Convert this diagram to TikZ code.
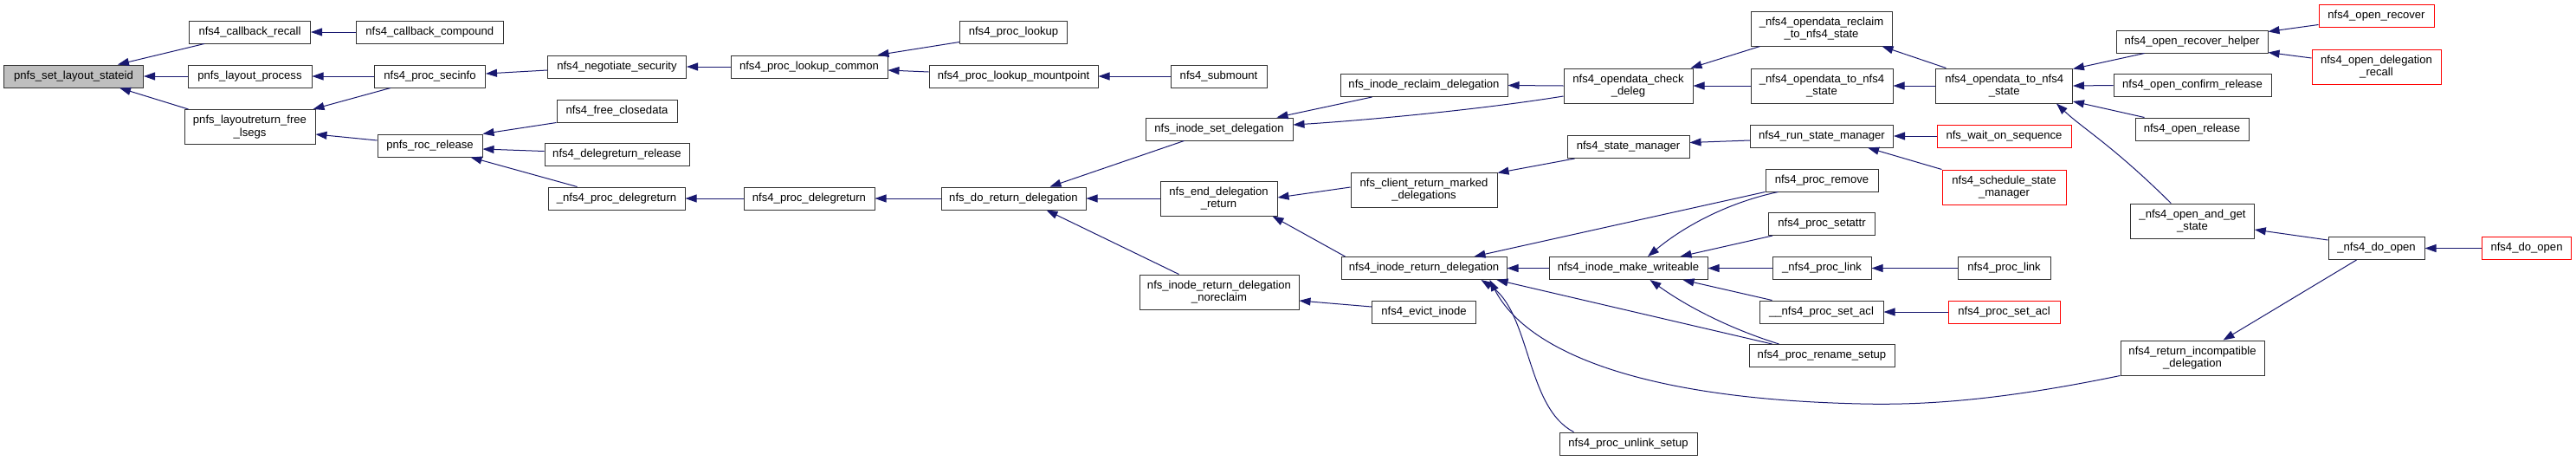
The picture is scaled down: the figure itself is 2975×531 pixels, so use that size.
\documentclass[tikz,border=0pt]{standalone}
\usepackage{fontspec}
\setmainfont{Liberation Sans}
\usetikzlibrary{arrows.meta,calc}
\definecolor{edgeblue}{HTML}{191970}
\definecolor{boxline}{HTML}{333333}
\newcommand\nfnt{\fontsize{13.1}{14.3}\selectfont}
\tikzset{
  box/.style={draw=boxline, line width=1pt, fill=white, inner sep=0pt, align=center, font=\nfnt, anchor=center, minimum height=26pt},
  twol/.style={minimum height=40pt},
  redbox/.style={box, draw=red},
  graybox/.style={box, fill=black!25},
  edge/.style={draw=edgeblue, line width=1pt, -{Triangle[length=13pt,width=9pt]}},
}
\begin{document}
\begin{tikzpicture}[x=1pt,y=-1pt]
\fill[white] (0,0) rectangle (2975,531);
\useasboundingbox (0,0) rectangle (2975,531);
% rank 0
\node[graybox, minimum width=161pt] (pslid) at (85,88) {pnfs\_set\_layout\_stateid};
% rank 1
\node[box, minimum width=140pt] (cbrecall) at (288.5,37) {nfs4\_callback\_recall};
\node[box, minimum width=143pt] (lprocess) at (288.5,88) {pnfs\_layout\_process};
\node[box, twol, minimum width=151pt] (freelsegs) at (288.5,146.5) {pnfs\_layoutreturn\_free\\\_lsegs};
% rank 2
\node[box, minimum width=170pt] (cbcomp) at (496.3,37) {nfs4\_callback\_compound};
\node[box, minimum width=128pt] (secinfo) at (496.5,88) {nfs4\_proc\_secinfo};
\node[box, minimum width=121pt] (rocrel) at (496.5,168) {pnfs\_roc\_release};
% rank 3
\node[box, minimum width=160pt] (negsec) at (712.5,77) {nfs4\_negotiate\_security};
\node[box, minimum width=139pt] (freeclose) at (712.5,128) {nfs4\_free\_closedata};
\node[box, minimum width=167pt] (delegrel) at (712.5,178.5) {nfs4\_delegreturn\_release};
\node[box, minimum width=158pt] (pdelegret) at (712,229) {\_nfs4\_proc\_delegreturn};
% rank 4
\node[box, minimum width=181pt] (lookupcommon) at (934.5,77) {nfs4\_proc\_lookup\_common};
\node[box, minimum width=151pt] (delegret) at (934.5,229) {nfs4\_proc\_delegreturn};
% rank 5
\node[box, minimum width=124pt] (lookup) at (1170.5,37) {nfs4\_proc\_lookup};
\node[box, minimum width=195pt] (mountpoint) at (1170.5,88) {nfs4\_proc\_lookup\_mountpoint};
\node[box, minimum width=167pt] (doreturn) at (1170.5,229) {nfs\_do\_return\_delegation};
% rank 6
\node[box, minimum width=111pt] (submount) at (1407.5,88) {nfs4\_submount};
\node[box, minimum width=170pt] (setdeleg) at (1408,149) {nfs\_inode\_set\_delegation};
\node[box, twol, minimum width=135pt] (enddeleg) at (1407.5,229) {nfs\_end\_delegation\\\_return};
\node[box, twol, minimum width=184pt] (noreclaim) at (1408,337) {nfs\_inode\_return\_delegation\\\_noreclaim};
% rank 7
\node[box, minimum width=193pt] (reclaimdeleg) at (1644.5,98.5) {nfs\_inode\_reclaim\_delegation};
\node[box, twol, minimum width=169pt] (clientret) at (1644.5,219) {nfs\_client\_return\_marked\\\_delegations};
\node[box, minimum width=191pt] (inoderet) at (1644.5,309.5) {nfs4\_inode\_return\_delegation};
\node[box, minimum width=120pt] (evict) at (1644.5,360) {nfs4\_evict\_inode};
% rank 8
\node[box, twol, minimum width=149pt] (checkdeleg) at (1880.5,99) {nfs4\_opendata\_check\\\_deleg};
\node[box, minimum width=141pt] (statemgr) at (1880.5,169.5) {nfs4\_state\_manager};
\node[box, minimum width=183pt] (makewr) at (1880.5,309.5) {nfs4\_inode\_make\_writeable};
\node[box, minimum width=159pt] (unlink) at (1880.5,512) {nfs4\_proc\_unlink\_setup};
% rank 9
\node[box, twol, minimum width=163pt] (reclaimto) at (2103.5,33) {\_nfs4\_opendata\_reclaim\\\_to\_nfs4\_state};
\node[box, twol, minimum width=164pt] (pto) at (2104,99) {\_nfs4\_opendata\_to\_nfs4\\\_state};
\node[box, minimum width=165pt] (runsm) at (2104,157) {nfs4\_run\_state\_manager};
\node[box, minimum width=130pt] (premove) at (2104,208) {nfs4\_proc\_remove};
\node[box, minimum width=123pt] (psetattr) at (2104,258.5) {nfs4\_proc\_setattr};
\node[box, minimum width=114pt] (plink) at (2104,309.5) {\_nfs4\_proc\_link};
\node[box, minimum width=143pt] (psetacl) at (2103.5,360) {\_\_nfs4\_proc\_set\_acl};
\node[box, minimum width=168pt] (rename) at (2104,410.5) {nfs4\_proc\_rename\_setup};
% rank 10
\node[box, twol, minimum width=157.5pt] (oto) at (2314.7,99) {nfs4\_opendata\_to\_nfs4\\\_state};
\node[redbox, minimum width=155pt] (waitseq) at (2314.5,157) {nfs\_wait\_on\_sequence};
\node[redbox, twol, minimum width=143pt] (schedsm) at (2314.5,216) {nfs4\_schedule\_state\\\_manager};
\node[box, minimum width=107pt] (link) at (2314.5,309.5) {nfs4\_proc\_link};
\node[redbox, minimum width=129pt] (setacl) at (2314.5,360) {nfs4\_proc\_set\_acl};
% rank 11
\node[box, minimum width=175pt] (rechelper) at (2531.5,48) {nfs4\_open\_recover\_helper};
\node[box, minimum width=182pt] (confirm) at (2532,98.5) {nfs4\_open\_confirm\_release};
\node[box, minimum width=131pt] (orelease) at (2531.5,149) {nfs4\_open\_release};
\node[box, twol, minimum width=142.5pt] (andget) at (2532,255) {\_nfs4\_open\_and\_get\\\_state};
\node[box, twol, minimum width=166pt] (incompat) at (2532,413) {nfs4\_return\_incompatible\\\_delegation};
% rank 12
\node[redbox, minimum width=133pt] (orecover) at (2744.5,18.5) {nfs4\_open\_recover};
\node[redbox, twol, minimum width=149pt] (odrecall) at (2744.5,77) {nfs4\_open\_delegation\\\_recall};
\node[box, minimum width=111pt] (pdoopen) at (2744.5,286.5) {\_nfs4\_do\_open};
% rank 13
\node[redbox, minimum width=103.5pt] (doopen) at (2918,286.5) {nfs4\_do\_open};

% edges (caller -> callee)
\draw[edge] ($(cbrecall.south west)+(18,0)$) -- ($(pslid.north west)+(132,0)$);
\draw[edge] (lprocess.west) -- (pslid.east);
\draw[edge] ($(freelsegs.north west)+(5,0)$) -- ($(pslid.south west)+(134,0)$);
\draw[edge] (cbcomp.west) -- (cbrecall.east);
\draw[edge] (secinfo.west) -- (lprocess.east);
\draw[edge] ($(secinfo.south west)+(19,0)$) -- ($(freelsegs.north east)+(-3,0)$);
\draw[edge] ($(rocrel.west)+(0,-6)$) -- ($(freelsegs.east)+(0,8.5)$);
\draw[edge] ($(negsec.west)+(0,4)$) -- ($(secinfo.east)+(0,-3)$);
\draw[edge] (freeclose.south west) -- (rocrel.north east);
\draw[edge] ($(delegrel.west)+(0,-4)$) -- ($(rocrel.east)+(0,4)$);
\draw[edge] ($(pdelegret.north west)+(34,0)$) -- ($(rocrel.south east)+(-14,0)$);
\draw[edge] (lookupcommon.west) -- (negsec.east);
\draw[edge] ($(lookup.south west)+(0,-2)$) -- ($(lookupcommon.north east)+(-12,0)$);
\draw[edge] ($(mountpoint.west)+(0,-5)$) -- ($(lookupcommon.east)+(0,4)$);
\draw[edge] (submount.west) -- (mountpoint.east);
\draw[edge] (delegret.west) -- (pdelegret.east);
\draw[edge] (doreturn.west) -- (delegret.east);
\draw[edge] ($(setdeleg.south west)+(45,0)$) -- ($(doreturn.north east)+(-42,0)$);
\draw[edge] (enddeleg.west) -- (doreturn.east);
\draw[edge] ($(noreclaim.north west)+(46,0)$) -- ($(doreturn.south east)+(-46,0)$);
\draw[edge] ($(reclaimdeleg.south west)+(37,0)$) -- ($(setdeleg.north east)+(-19,0)$);
\draw[edge] ($(checkdeleg.west)+(0,12)$) .. controls (1700,128) and (1560,140) .. ($(setdeleg.east)+(0,-5)$);
\draw[edge] (checkdeleg.west) -- (reclaimdeleg.east);
\draw[edge] ($(statemgr.south west)+(9,0)$) -- ($(clientret.north east)+(0,1)$);
\draw[edge] ($(clientret.west)+(0,-3)$) -- ($(enddeleg.east)+(0,-1)$);
\draw[edge] ($(inoderet.north west)+(5,0)$) -- ($(enddeleg.south east)+(-6,0)$);
\draw[edge] ($(evict.west)+(0,-6)$) -- ($(noreclaim.east)+(0,10)$);
\draw[edge] (makewr.west) -- (inoderet.east);
\draw[edge] (premove.south west) -- ($(inoderet.north east)+(-38,0)$);
\draw[edge] ($(rename.north west)+(27,0)$) -- ($(inoderet.south east)+(-12,0)$);
\draw[edge] ($(unlink.north west)+(17,0)$) .. controls (1762,470) and (1768,360) .. ($(inoderet.south east)+(-30,0)$);
\draw[edge] (incompat.south west) .. controls (2320,460) and (2230,468) .. (2149,466) .. controls (1880,460) and (1760,400) .. ($(inoderet.south east)+(-20,0)$);
\draw[edge] ($(reclaimto.south west)+(11,0)$) -- ($(checkdeleg.north east)+(-3,0)$);
\draw[edge] (pto.west) -- (checkdeleg.east);
\draw[edge] ($(oto.north west)+(12,0)$) -- ($(reclaimto.south east)+(-12,0)$);
\draw[edge] (oto.west) -- (pto.east);
\draw[edge] ($(runsm.west)+(0,5)$) -- ($(statemgr.east)+(0,-5)$);
\draw[edge] (waitseq.west) -- (runsm.east);
\draw[edge] (schedsm.north west) -- ($(runsm.south east)+(-30,0)$);
\draw[edge] ($(premove.south west)+(15,0)$) .. controls (1990,235) and (1940,265) .. ($(makewr.north)+(22.5,0)$);
\draw[edge] ($(psetattr.south west)+(5,0)$) -- ($(makewr.north east)+(-32,0)$);
\draw[edge] (plink.west) -- (makewr.east);
\draw[edge] ($(psetacl.north west)+(15,0)$) -- ($(makewr.south east)+(-29,0)$);
\draw[edge] ($(rename.north west)+(35,0)$) .. controls (2000,380) and (1950,355) .. ($(makewr.south)+(25,0)$);
\draw[edge] (link.west) -- (plink.east);
\draw[edge] (setacl.west) -- (psetacl.east);
\draw[edge] ($(rechelper.south west)+(33,0)$) -- ($(oto.north east)+(0,1)$);
\draw[edge] (confirm.west) -- (oto.east);
\draw[edge] ($(orelease.north west)+(11,0)$) -- ($(oto.east)+(0,18)$);
\draw[edge] ($(andget.north west)+(47,0)$) .. controls (2440,168) and (2405,148) .. ($(oto.south east)+(-19,0)$);
\draw[edge] ($(orecover.west)+(0,10)$) -- ($(rechelper.north east)+(0,2)$);
\draw[edge] ($(odrecall.west)+(0,-10)$) -- ($(rechelper.south east)+(0,-1)$);
\draw[edge] ($(pdoopen.north west)+(0,4)$) -- ($(andget.east)+(0,10)$);
\draw[edge] ($(pdoopen.south west)+(33,0)$) -- ($(incompat.north east)+(-48,0)$);
\draw[edge] (doopen.west) -- (pdoopen.east);
\end{tikzpicture}
\end{document}
